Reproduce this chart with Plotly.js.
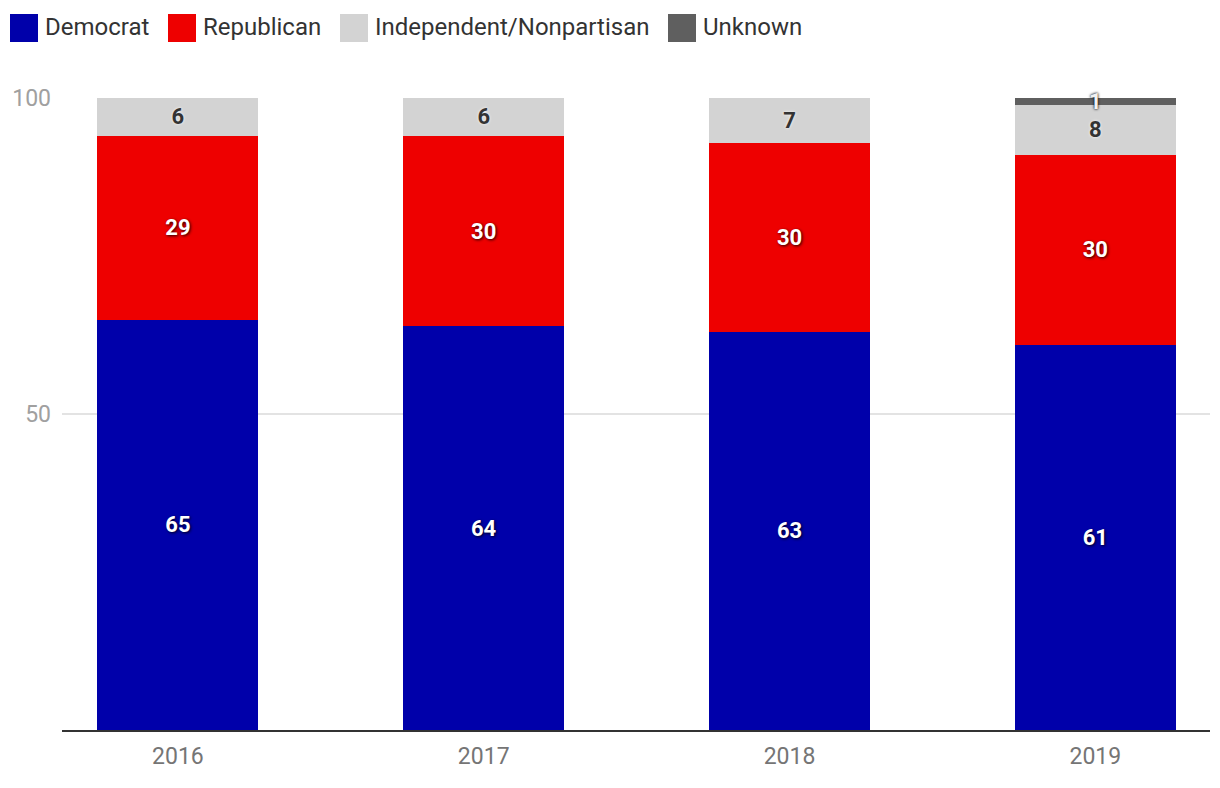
<!DOCTYPE html>
<html>
<head>
<meta charset="utf-8">
<script src="https://cdn.plot.ly/plotly-3.0.1.min.js"></script>
<style>html,body{margin:0;padding:0;background:#fff;}#chart{width:1220px;height:788px;}</style>
</head>
<body>
<div id="chart"></div>
<script>
const years = ['2016', '2017', '2018', '2019'];
const democrat = [64.9, 63.9, 63.0, 60.9];
const republican = [29.1, 30.1, 29.9, 30.1];
const independent = [6.0, 6.0, 7.1, 7.9];
const unknown = [null, null, null, 1.1];
const seriesNames = ['Democrat', 'Republican', 'Independent/Nonpartisan', 'Unknown'];
const seriesColors = ['#0000aa', '#ee0000', '#d3d3d3', '#5f5f5f'];
const yTicks = [50, 100];

const FONT = 'Roboto, "Noto Sans", Arial, sans-serif';
const darkShadow = '1px 1px 3px rgba(0,0,0,0.85)';
const lightShadow = '0px 0px 3px rgba(255,255,255,0.9)';
const unkShadow = '0px 0px 3px rgba(0,0,0,0.9), 0px 0px 2px rgba(0,0,0,0.6)';
const seriesValues = [democrat, republican, independent, unknown];
const textColors = ['#ffffff', '#ffffff', '#333333', '#f2f2f2'];
const shadows = [darkShadow, darkShadow, lightShadow, unkShadow];

const traces = seriesValues.map((vals, i) => ({
  type: 'bar',
  name: seriesNames[i],
  x: years,
  y: vals,
  marker: {color: seriesColors[i], line: {width: 0}},
  texttemplate: '%{y:.0f}',
  textposition: 'inside',
  insidetextanchor: 'middle',
  constraintext: 'none',
  textangle: 0,
  textfont: {family: FONT, size: 22, color: textColors[i], weight: 'bold', shadow: shadows[i]},
  cliponaxis: false,
  hoverinfo: 'name+y',
  showlegend: false
}));

// plot area geometry (pixels) for custom legend placement
const L = 62, R = 1210, T = 98, B = 730;
const px = p => (p - L) / (R - L);
const py = p => (B - p) / (B - T);

const legendItems = [
  {sq: 10, tx: 45},
  {sq: 168, tx: 203},
  {sq: 340, tx: 375},
  {sq: 668, tx: 703}
];
const shapes = [];
const annotations = [];
legendItems.forEach((it, i) => {
  shapes.push({type: 'rect', xref: 'paper', yref: 'paper',
    x0: px(it.sq), x1: px(it.sq + 28), y0: py(42), y1: py(14),
    fillcolor: seriesColors[i], line: {width: 0}, layer: 'above'});
  annotations.push({xref: 'paper', yref: 'paper', x: px(it.tx - 2), y: py(27),
    xanchor: 'left', yanchor: 'middle', showarrow: false, text: seriesNames[i],
    font: {family: FONT, size: 24, color: '#333333'}});
});

const layout = {
  width: 1220, height: 788,
  margin: {l: L, r: 1220 - R, t: T, b: 788 - B},
  paper_bgcolor: '#ffffff', plot_bgcolor: '#ffffff',
  barmode: 'stack',
  bargap: 0.4735,
  showlegend: false,
  uniformtext: {mode: 'show', minsize: 22},
  font: {family: FONT},
  xaxis: {
    type: 'category',
    range: [-0.379, 3.375],
    showline: true, linecolor: '#333333', linewidth: 2,
    showgrid: false, zeroline: false, ticks: '',
    tickfont: {family: FONT, size: 23, color: '#757575'},
    ticklabelstandoff: 4
  },
  yaxis: {
    range: [0, 100],
    tickvals: yTicks, ticktext: yTicks.map(String),
    showgrid: true, gridcolor: '#e3e3e3', gridwidth: 2,
    zeroline: false, showline: false, ticks: '',
    tickfont: {family: FONT, size: 23, color: '#a0a0a0'},
    ticklabelstandoff: 10
  },
  shapes: shapes,
  annotations: annotations
};

Plotly.newPlot('chart', traces, layout, {displayModeBar: false, staticPlot: true});
</script>
</body>
</html>
